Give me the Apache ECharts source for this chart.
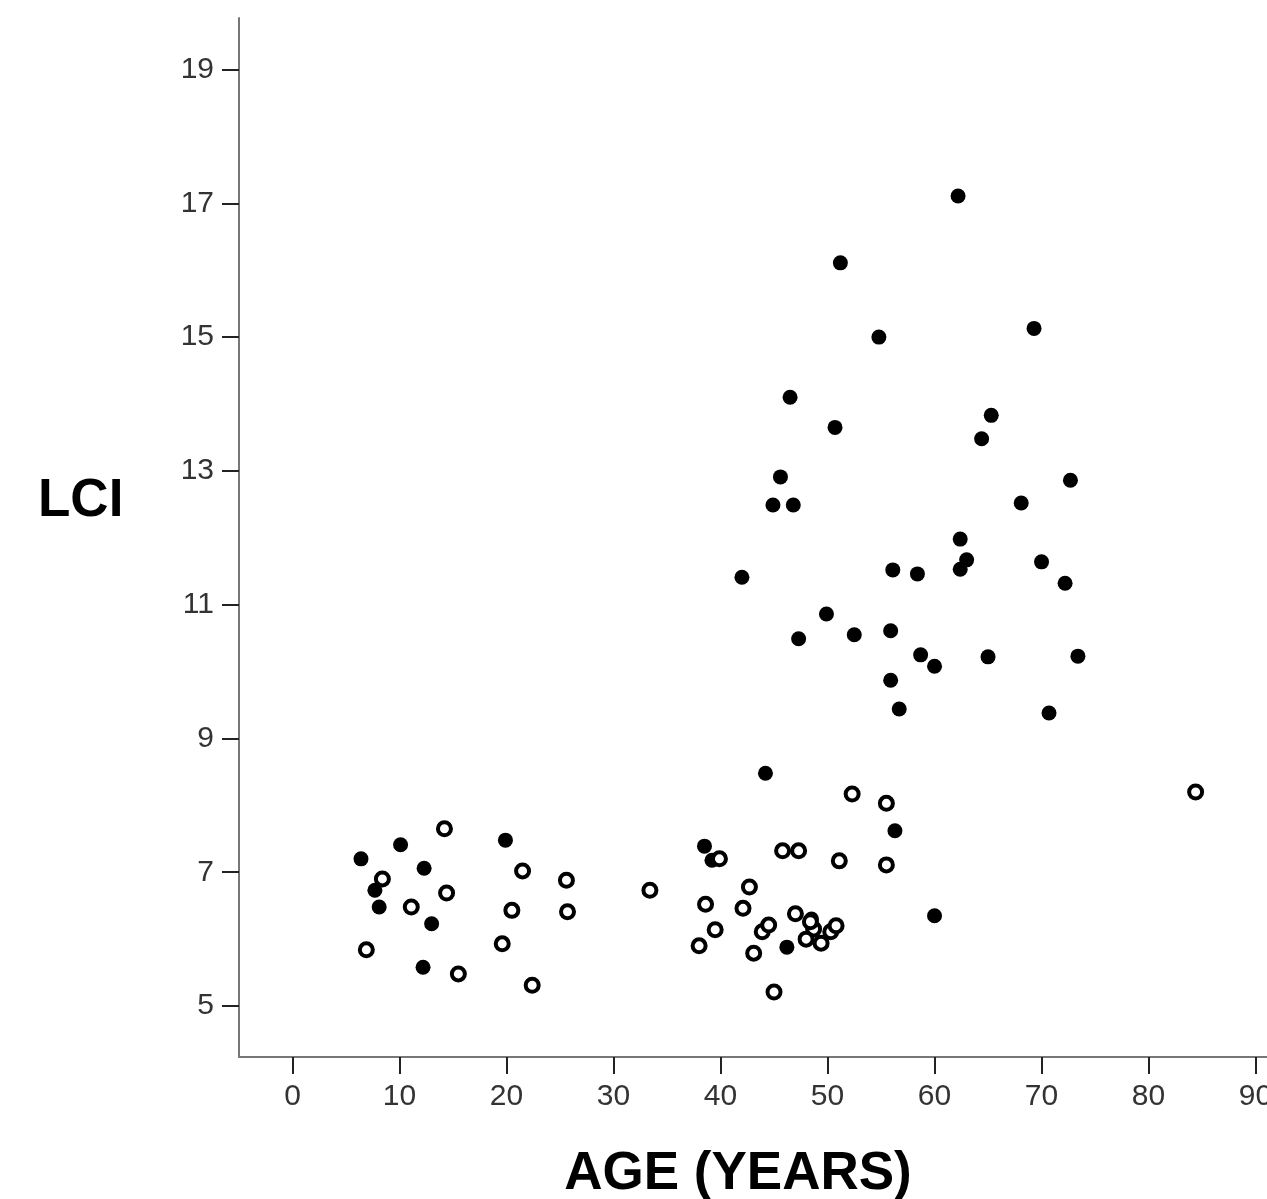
<!DOCTYPE html>
<html>
<head>
<meta charset="utf-8">
<script src="https://cdn.jsdelivr.net/npm/echarts@6/dist/echarts.min.js"></script>
<style>
  html, body { margin: 0; padding: 0; background: #fff; }
  #LCI { width: 1267px; height: 1199px; }
</style>
</head>
<body>
<div id="LCI"></div>
<script>
// tick values
var xTicks = [0, 10, 20, 30, 40, 50, 60, 70, 80, 90];
var yTicks = [5, 7, 9, 11, 13, 15, 17, 19];

// filled dots: [age, LCI]
var filledPoints = [
    [6.4, 7.20], [10.1, 7.41], [7.7, 6.73], [8.1, 6.48], [12.3, 7.06],
    [13.0, 6.23], [12.2, 5.58], [19.9, 7.48], [38.5, 7.39], [39.2, 7.18],
    [44.2, 8.48], [42.0, 11.41], [44.9, 12.49], [45.6, 12.91], [46.8, 12.49],
    [46.5, 14.10], [47.3, 10.49], [50.7, 13.65], [51.2, 16.11], [49.9, 10.86],
    [52.5, 10.55], [54.8, 15.00], [56.1, 11.52], [55.9, 10.61], [55.9, 9.87],
    [56.7, 9.44], [58.4, 11.46], [58.7, 10.25], [60.0, 10.08], [56.3, 7.62],
    [60.0, 6.35], [62.2, 17.11], [62.4, 11.98], [62.4, 11.53], [63.0, 11.67],
    [64.4, 13.48], [65.3, 13.83], [65.0, 10.22], [68.1, 12.52], [69.3, 15.13],
    [70.0, 11.64], [70.7, 9.38], [72.2, 11.32], [72.7, 12.86], [73.4, 10.23],
    [46.2, 5.88], [48.5, 6.30]
];

// open circles: [age, LCI]
var openPoints = [
    [14.2, 7.65], [8.4, 6.90], [21.5, 7.02], [25.6, 6.88], [14.4, 6.69],
    [11.1, 6.48], [20.5, 6.43], [25.7, 6.41], [19.6, 5.93], [6.9, 5.84],
    [15.5, 5.48], [22.4, 5.31], [33.4, 6.73], [52.3, 8.17], [55.5, 8.03],
    [39.9, 7.20], [45.8, 7.32], [47.3, 7.32], [51.1, 7.17], [55.5, 7.11],
    [42.7, 6.78], [38.6, 6.52], [42.1, 6.46], [39.5, 6.14], [38.0, 5.90],
    [43.1, 5.79], [43.9, 6.11], [44.5, 6.21], [45.0, 5.21], [47.0, 6.38],
    [48.7, 6.15], [48.4, 6.26], [48.0, 6.00], [49.4, 5.94], [50.3, 6.11],
    [50.8, 6.20], [84.4, 8.20]
];

var chart = echarts.init(document.getElementById("LCI"));

var option = {
    animation: false,
    backgroundColor: "#fff",
    title: {
        text: "LCI",
        left: 38,
        top: 475,
        padding: 0,
        textStyle: {
            color: "#000",
            fontFamily: "Liberation Sans",
            fontWeight: "bold",
            fontSize: 53
        }
    },
    grid: {
        left: 239,
        top: 18,
        right: 0,
        bottom: 142,
        outerBoundsMode: "none"
    },
    xAxis: {
        type: "value",
        min: -5.0,
        max: 91.07,
        name: "AGE (YEARS)",
        nameLocation: "middle",
        nameGap: 91,
        nameTextStyle: {
            color: "#000",
            fontFamily: "Liberation Sans",
            fontWeight: "bold",
            fontSize: 53,
            padding: [0, 30, 0, 0]
        },
        axisLine: { onZero: false, lineStyle: { color: "#777", width: 2 } },
        axisTick: {
            show: true,
            customValues: xTicks,
            length: 17,
            lineStyle: { color: "#222", width: 2 }
        },
        axisLabel: {
            customValues: xTicks,
            margin: 25,
            color: "#333",
            fontFamily: "Liberation Sans",
            fontSize: 30
        },
        splitLine: { show: false }
    },
    yAxis: {
        type: "value",
        min: 4.238,
        max: 19.77,
        axisLine: { show: true, onZero: false, lineStyle: { color: "#777", width: 2 } },
        axisTick: {
            show: true,
            customValues: yTicks,
            length: 17,
            lineStyle: { color: "#222", width: 2 }
        },
        axisLabel: {
            customValues: yTicks,
            margin: 25,
            color: "#333",
            fontFamily: "Liberation Sans",
            fontSize: 30
        },
        splitLine: { show: false }
    },
    series: [
        {
            type: "scatter",
            data: filledPoints,
            symbol: "circle",
            symbolSize: 15,
            itemStyle: { color: "#000", opacity: 1 }
        },
        {
            type: "scatter",
            data: openPoints,
            symbol: "circle",
            symbolSize: 13,
            itemStyle: { color: "#fff", borderColor: "#000", borderWidth: 4, opacity: 1 }
        }
    ]
};

chart.setOption(option);
</script>
</body>
</html>
